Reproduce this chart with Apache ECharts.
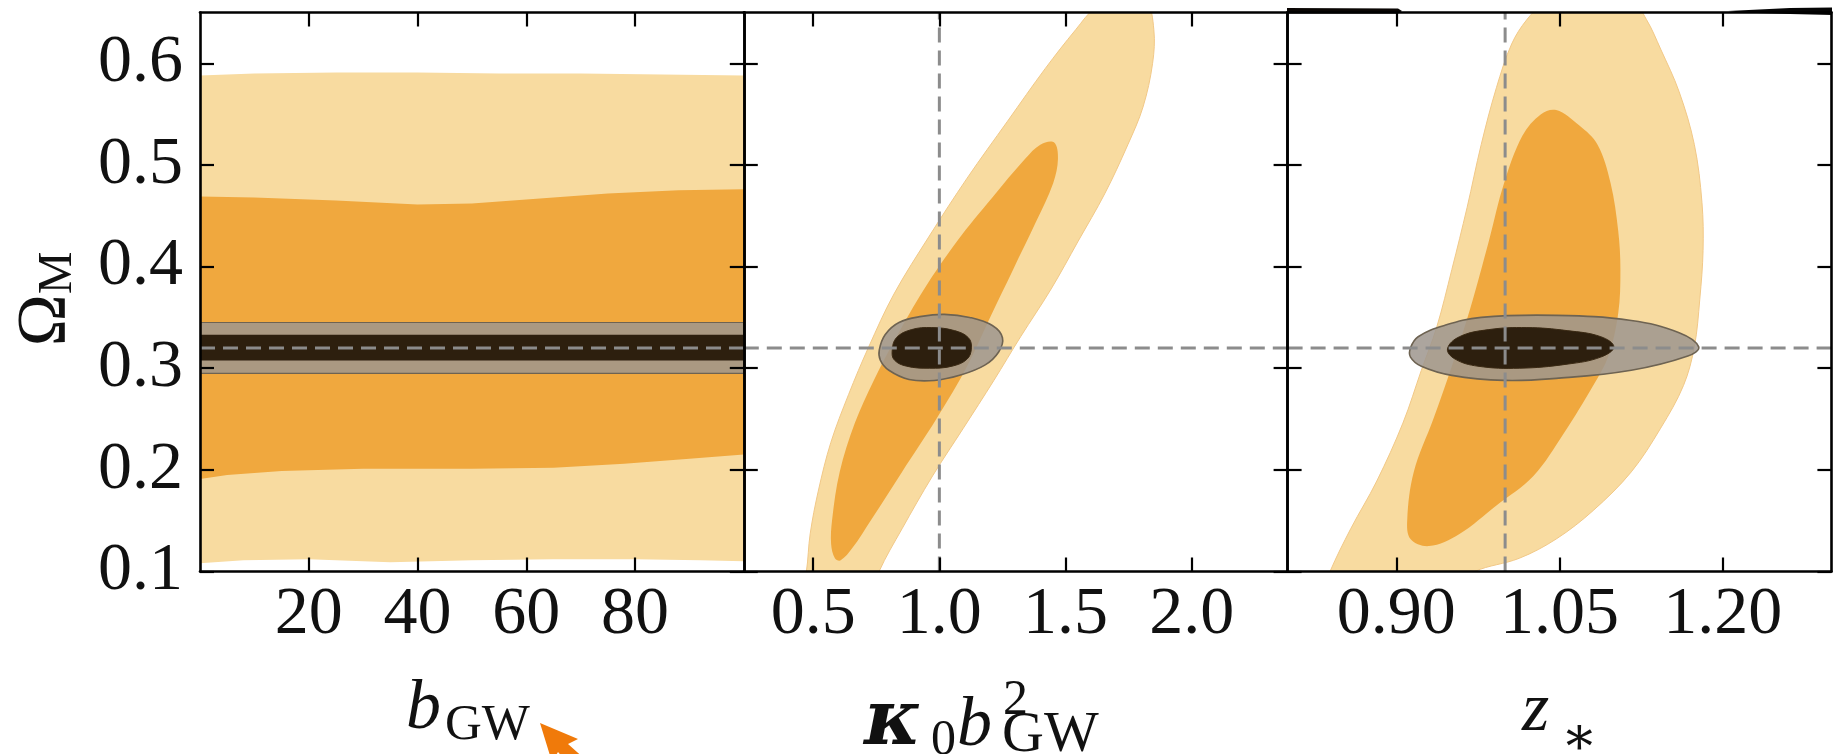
<!DOCTYPE html>
<html>
<head>
<meta charset="utf-8">
<script src="https://cdn.jsdelivr.net/npm/echarts@6/dist/echarts.min.js"></script>
<style>
  html, body { margin: 0; padding: 0; background: #ffffff; }
  #main { width: 1843px; height: 754px; }
</style>
</head>
<body>
<div id="main"></div>
<script>
// ---------------- data ----------------
// fiducial values
const omegaFid = 0.32;
const kbFid = 1.0;
const zFid = 1.0;

// axis ranges and tick values
const omegaRange = [0.1, 0.65];
const bRange = [0, 100];
const kbRange = [0.225, 2.38];
const zRange = [0.8, 1.3];
const omegaTicks = [0.1, 0.2, 0.3, 0.4, 0.5, 0.6];
const bTicks = [20, 40, 60, 80];
const kbTicks = [0.5, 1.0, 1.5, 2.0];
const zTicks = [0.90, 1.05, 1.20];

// b_GW vs Omega_M : 95% / 68% bands (upper edge, lower edge)
const bLight95Top = [[0, 0.588], [10, 0.590], [25, 0.591], [40, 0.591], [55, 0.590], [70, 0.590], [85, 0.589], [100, 0.588]];
const bLight95Bot = [[0, 0.108], [8, 0.111], [20, 0.112], [35, 0.109], [50, 0.111], [65, 0.112], [80, 0.112], [92, 0.111], [100, 0.110]];
const bMid68Top = [[0, 0.469], [10, 0.468], [25, 0.465], [40, 0.461], [50, 0.462], [60, 0.466], [75, 0.472], [88, 0.475], [100, 0.476]];
const bMid68Bot = [[0, 0.191], [5, 0.195], [15, 0.199], [30, 0.201], [50, 0.201], [65, 0.202], [78, 0.206], [90, 0.211], [100, 0.215]];
// GW-only constraint on Omega_M (flat in b_GW)
const bGray95 = [0.295, 0.345];
const bDark68 = [0.3075, 0.333];

// kappa0 b^2 vs Omega_M
const kbLight95 = [[0.45, 0.075], [0.473, 0.100], [0.488, 0.137], [0.52, 0.179], [0.57, 0.227], [0.64, 0.274], [0.72, 0.321], [0.82, 0.373], [0.96, 0.430], [1.11, 0.487], [1.27, 0.543], [1.42, 0.595], [1.54, 0.633], [1.62, 0.655], [1.74, 0.668], [1.82, 0.662], [1.85, 0.633], [1.845, 0.600], [1.807, 0.557], [1.747, 0.520], [1.656, 0.472], [1.55, 0.425], [1.443, 0.378], [1.322, 0.331], [1.216, 0.288], [1.095, 0.241], [0.973, 0.194], [0.852, 0.142], [0.761, 0.100], [0.73, 0.075]];
const kbMid68 = [[0.586, 0.113], [0.571, 0.127], [0.575, 0.151], [0.605, 0.198], [0.665, 0.246], [0.74, 0.288], [0.83, 0.331], [0.94, 0.378], [1.07, 0.425], [1.21, 0.468], [1.34, 0.506], [1.40, 0.520], [1.455, 0.522], [1.47, 0.506], [1.451, 0.482], [1.383, 0.444], [1.292, 0.397], [1.201, 0.350], [1.110, 0.302], [0.988, 0.250], [0.852, 0.198], [0.730, 0.151], [0.655, 0.123], [0.609, 0.111]];
const kbGray95 = [[0.762, 0.318], [0.785, 0.333], [0.84, 0.345], [0.93, 0.351], [1.02, 0.353], [1.12, 0.350], [1.21, 0.342], [1.25, 0.330], [1.235, 0.316], [1.18, 0.303], [1.08, 0.293], [0.98, 0.288], [0.88, 0.289], [0.80, 0.298], [0.766, 0.308]];
const kbDark68 = [[0.813, 0.317], [0.83, 0.330], [0.89, 0.338], [0.97, 0.340], [1.06, 0.337], [1.115, 0.330], [1.127, 0.320], [1.11, 0.309], [1.05, 0.302], [0.96, 0.300], [0.87, 0.302], [0.822, 0.308]];

// z_* vs Omega_M
const zLight95 = [[0.835, 0.085], [0.839, 0.100], [0.858, 0.142], [0.882, 0.189], [0.906, 0.246], [0.923, 0.298], [0.937, 0.340], [0.951, 0.397], [0.965, 0.458], [0.978, 0.520], [0.992, 0.576], [1.006, 0.619], [1.020, 0.643], [1.035, 0.658], [1.064, 0.668], [1.116, 0.662], [1.130, 0.643], [1.143, 0.614], [1.160, 0.572], [1.174, 0.520], [1.181, 0.463], [1.182, 0.416], [1.179, 0.368], [1.174, 0.321], [1.164, 0.283], [1.143, 0.241], [1.116, 0.198], [1.081, 0.160], [1.047, 0.132], [1.013, 0.113], [0.972, 0.100], [0.955, 0.085]];
const zMid68 = [[0.910, 0.151], [0.916, 0.198], [0.934, 0.250], [0.951, 0.302], [0.968, 0.359], [0.985, 0.425], [0.999, 0.482], [1.016, 0.529], [1.033, 0.550], [1.047, 0.554], [1.068, 0.539], [1.085, 0.520], [1.097, 0.482], [1.104, 0.435], [1.106, 0.397], [1.104, 0.354], [1.095, 0.312], [1.081, 0.283], [1.054, 0.236], [1.026, 0.194], [0.992, 0.165], [0.958, 0.137], [0.930, 0.125], [0.913, 0.132]];
const zGray95 = [[0.913, 0.320], [0.920, 0.331], [0.944, 0.342], [0.978, 0.350], [1.047, 0.352], [1.116, 0.347], [1.160, 0.335], [1.178, 0.321], [1.168, 0.312], [1.116, 0.298], [1.047, 0.290], [0.999, 0.288], [0.951, 0.293], [0.923, 0.302], [0.913, 0.311]];
const zDark68 = [[0.947, 0.319], [0.958, 0.331], [0.985, 0.338], [1.020, 0.340], [1.057, 0.337], [1.088, 0.331], [1.100, 0.321], [1.088, 0.311], [1.057, 0.304], [1.013, 0.300], [0.975, 0.302], [0.954, 0.309]];

// ---------------- style ----------------
const SERIF = '"Liberation Serif", "Times New Roman", Times, serif';
const C_LIGHT = '#F8DBA0';
const C_LIGHT_EDGE = '#F1C887';
const C_MID = '#F0A83E';
const C_GRAY = 'rgba(158,150,142,0.86)';
const C_GRAY_EDGE = '#6e6352';
const C_DARK = '#2D1F0E';
const C_DASH = '#8c8c8c';

const PANEL_W = 543.8;
const PANEL_L = [200, 743.8, 1287.6];
const PANEL_TOP = 12.5;
const PANEL_H = 559;

const grids = PANEL_L.map(l => ({
  left: l, top: PANEL_TOP, width: PANEL_W, height: PANEL_H,
  containLabel: false, outerBoundsMode: 'none'
}));

function xAxisPair(gi, range, ticks, fmt) {
  const base = {
    type: 'value', gridIndex: gi, min: range[0], max: range[1], z: 20,
    splitLine: { show: false },
    axisLine: { show: true, onZero: false, lineStyle: { color: '#000', width: 2.6 } },
    axisTick: { show: true, inside: true, length: 14, lineStyle: { color: '#000', width: 2.2 }, customValues: ticks }
  };
  return [
    Object.assign({}, base, {
      position: 'bottom',
      axisLabel: { show: true, customValues: ticks, formatter: fmt, fontFamily: SERIF, fontSize: 68, color: '#111', margin: 10 }
    }),
    Object.assign({}, base, { position: 'top', axisLabel: { show: false } })
  ];
}

function yAxisPair(gi, showLabels) {
  const base = {
    type: 'value', gridIndex: gi, min: omegaRange[0], max: omegaRange[1], z: 20,
    splitLine: { show: false },
    axisLine: { show: true, onZero: false, lineStyle: { color: '#000', width: 2.6 } },
    axisTick: { show: true, inside: true, length: 14, lineStyle: { color: '#000', width: 2.2 }, customValues: omegaTicks }
  };
  const left = Object.assign({}, base, {
    position: 'left',
    axisLabel: { show: showLabels, customValues: omegaTicks, formatter: v => v.toFixed(1), fontFamily: SERIF, fontSize: 68, color: '#111', margin: 17 }
  });
  if (showLabels) {
    // Omega_M title with subscript
    Object.assign(left, {
      name: '{o|Ω}{m|M}',
      nameLocation: 'middle',
      nameRotate: 90,
      nameGap: 118,
      nameTextStyle: {
        padding: [0, 14, 0, 0],
        rich: {
          o: { fontFamily: SERIF, fontSize: 70, lineHeight: 70, color: '#111', verticalAlign: 'bottom' },
          m: { fontFamily: SERIF, fontSize: 48, lineHeight: 46, color: '#111', verticalAlign: 'bottom' }
        }
      }
    });
  }
  return [left, Object.assign({}, base, { position: 'right', axisLabel: { show: false } })];
}

// closed filled region in data space of panel gi
function region(gi, pts, fill, stroke, lw, smooth, z) {
  return {
    type: 'custom', coordinateSystem: 'cartesian2d',
    xAxisIndex: gi * 2, yAxisIndex: gi * 2, z: z, silent: true,
    data: [[0, 0]],
    renderItem: function (params, api) {
      const cs = params.coordSys;
      return {
        type: 'polygon',
        shape: { points: pts.map(p => api.coord(p)), smooth: smooth },
        style: { fill: fill, stroke: stroke, lineWidth: lw },
        clipPath: { type: 'rect', shape: { x: cs.x, y: cs.y, width: cs.width, height: cs.height } }
      };
    }
  };
}

function band(top, bot) {
  return top.concat(bot.slice().reverse());
}

function flatBand(range, lims) {
  return [[range[0], lims[1]], [range[1], lims[1]], [range[1], lims[0]], [range[0], lims[0]]];
}

function dashLine(gi, a, b) {
  return {
    type: 'line', xAxisIndex: gi * 2, yAxisIndex: gi * 2, z: 10, silent: true,
    data: [a, b], symbol: 'none',
    lineStyle: { color: C_DASH, width: 3, type: [15, 8] }
  };
}

const series = [
  // b_GW panel
  region(0, band(bLight95Top, bLight95Bot), C_LIGHT, null, 0, 0, 2),
  region(0, band(bMid68Top, bMid68Bot), C_MID, null, 0, 0, 3),
  region(0, flatBand(bRange, bGray95), C_GRAY, C_GRAY_EDGE, 1.2, 0, 4),
  region(0, flatBand(bRange, bDark68), C_DARK, null, 0, 0, 5),
  dashLine(0, [bRange[0], omegaFid], [bRange[1], omegaFid]),

  // kappa0 b^2 panel
  region(1, kbLight95, C_LIGHT, C_LIGHT_EDGE, 1, 0.35, 2),
  region(1, kbMid68, C_MID, null, 0, 0.35, 3),
  region(1, kbGray95, C_GRAY, C_GRAY_EDGE, 1.6, 0.4, 4),
  region(1, kbDark68, C_DARK, '#3b2a14', 1, 0.4, 5),
  dashLine(1, [kbRange[0], omegaFid], [kbRange[1], omegaFid]),
  dashLine(1, [kbFid, omegaRange[0]], [kbFid, omegaRange[1]]),

  // z_* panel
  region(2, zLight95, C_LIGHT, C_LIGHT_EDGE, 1, 0.35, 2),
  region(2, zMid68, C_MID, null, 0, 0.35, 3),
  region(2, zGray95, C_GRAY, C_GRAY_EDGE, 1.6, 0.4, 4),
  region(2, zDark68, C_DARK, '#3b2a14', 1, 0.4, 5),
  dashLine(2, [zRange[0], omegaFid], [zRange[1], omegaFid]),
  dashLine(2, [zFid, omegaRange[0]], [zFid, omegaRange[1]])
];

// axis titles (math-style text with sub/superscripts)
function txt(x, y, text, font, align) {
  return {
    type: 'text', x: x, y: y, silent: true,
    style: { text: text, font: font, fill: '#111', align: align || 'left', verticalAlign: 'middle' }
  };
}

const graphic = [
  // b_GW
  txt(406, 710, 'b', 'italic 70px ' + SERIF),
  txt(445, 726, 'GW', '51px ' + SERIF),
  // kappa_0 b_GW^2
  txt(864, 724, 'κ', 'italic bold 77px "DejaVu Serif", ' + SERIF),
  txt(931, 741, '0', '50px ' + SERIF),
  txt(957, 727, 'b', 'italic 70px ' + SERIF),
  txt(1003, 701, '2', '50px ' + SERIF),
  txt(1002, 736, 'GW', '58px ' + SERIF),
  // z_*
  txt(1522, 712, 'z', 'italic 70px ' + SERIF),
  txt(1561, 740, '∗', '54px "DejaVu Serif", ' + SERIF),
  // frame remnants along the top edge of the right panel
  { type: 'polygon', silent: true, shape: { points: [[1287, 8], [1398, 8.5], [1402, 11], [1398, 13.5], [1287, 13.5]] }, style: { fill: '#0a0604' } },
  { type: 'polygon', silent: true, shape: { points: [[1728, 11], [1790, 8], [1832, 7.5], [1832, 15], [1790, 14], [1740, 12.5]] }, style: { fill: '#050505' } },
  // pointer arrow
  { type: 'polygon', silent: true, shape: { points: [[540, 723], [578, 739], [568, 744], [586, 760], [574, 770], [558, 752], [552, 762]] }, style: { fill: '#F07A0A' } }
];

const xAxes = [].concat(
  xAxisPair(0, bRange, bTicks, v => String(Math.round(v))),
  xAxisPair(1, kbRange, kbTicks, v => v.toFixed(1)),
  xAxisPair(2, zRange, zTicks, v => v.toFixed(2))
);
const yAxes = [].concat(yAxisPair(0, true), yAxisPair(1, false), yAxisPair(2, false));

const chart = echarts.init(document.getElementById('main'), null, { renderer: 'canvas' });
chart.setOption({
  animation: false,
  backgroundColor: '#ffffff',
  grid: grids,
  xAxis: xAxes,
  yAxis: yAxes,
  series: series,
  graphic: graphic
});
</script>
</body>
</html>
